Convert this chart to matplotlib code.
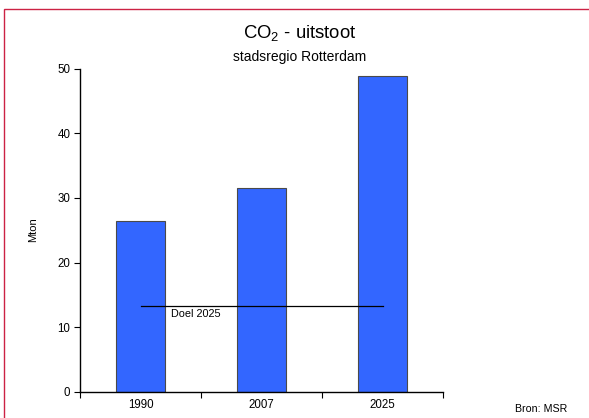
import matplotlib
matplotlib.use("Agg")
import matplotlib.pyplot as plt
from matplotlib.patches import Rectangle

categories = ["1990", "2007", "2025"]
values = [26.5, 31.6, 48.9]
doel_value = 13.3
doel_label = "Doel 2025"
y_ticks = [0, 10, 20, 30, 40, 50]

plt.rcParams['font.family'] = ['Liberation Sans', 'DejaVu Sans']
plt.rcParams['mathtext.fontset'] = 'custom'
plt.rcParams['mathtext.rm'] = 'Liberation Sans'
plt.rcParams['mathtext.it'] = 'Liberation Sans'
plt.rcParams['mathtext.bf'] = 'Liberation Sans:bold'

fig = plt.figure(figsize=(5.89, 4.18), dpi=100)
W, H = 589, 418
ax = fig.add_axes([80 / W, 1 - 391.7 / H, (443.3 - 80) / W, (391.7 - 68.7) / H])

x = list(range(len(categories)))
ax.bar(x, values, width=0.405, color="#3366FF", edgecolor="#4a4a4a", linewidth=0.8, zorder=2)
ax.plot([x[0], x[-1]], [doel_value, doel_value], color="black", linewidth=0.9, zorder=3)
ax.text(0.25, doel_value - 1.25, doel_label, fontsize=7.8, ha="left", va="center", zorder=4)

ax.set_xlim(-0.5, len(categories) - 0.5)
ax.set_ylim(0, 50)
ax.set_yticks(y_ticks)
ax.set_yticklabels([str(t) for t in y_ticks], fontsize=8.3)
ax.set_xticks([i - 0.5 for i in range(len(categories) + 1)])
ax.set_xticklabels([])
ax.set_xticks(x, minor=True)
ax.set_xticklabels(categories, minor=True, fontsize=8.3)
ax.tick_params(axis="x", which="minor", length=0, pad=5)
ax.tick_params(axis="x", which="major", length=4, width=0.8, direction="out")
ax.tick_params(axis="y", length=4, width=0.8, direction="out", pad=3)
for s in ["top", "right"]:
    ax.spines[s].set_visible(False)
for s in ["left", "bottom"]:
    ax.spines[s].set_linewidth(1.0)

fig.text(300 / W, 1 - 33 / H, r"CO$_\mathrm{2}$ - uitstoot", fontsize=13.3, ha="center", va="center")
fig.text(300 / W, 1 - 57 / H, "stadsregio Rotterdam", fontsize=10, ha="center", va="center")
fig.text(33 / W, 1 - 230 / H, "Mton", fontsize=8, rotation=90, ha="center", va="center")
fig.text(567 / W, 1 - 409 / H, "Bron: MSR", fontsize=7.7, ha="right", va="center")

fig.patches.append(Rectangle((4 / W, -0.2), 2.0, 1.2 - 9 / H,
                             transform=fig.transFigure, fill=False,
                             edgecolor="#CC2244", linewidth=1.0))

fig.savefig("out.png", dpi=100)
